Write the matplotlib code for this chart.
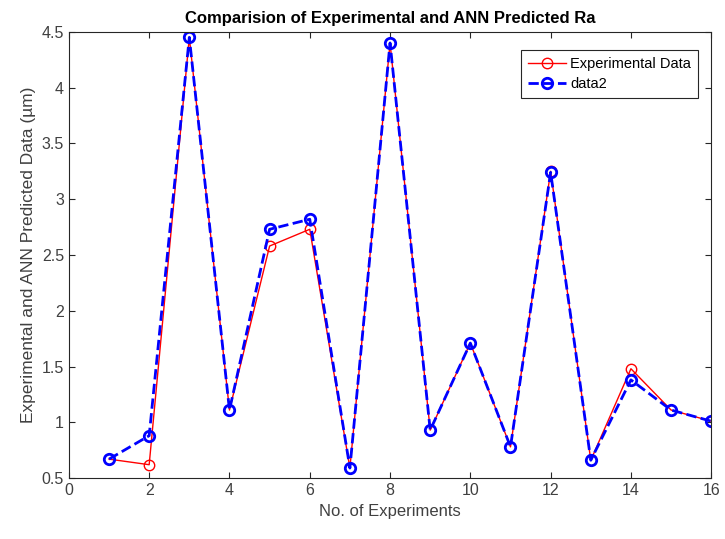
# -*- coding: utf-8 -*-
import numpy as np
import matplotlib
matplotlib.use('Agg')
import matplotlib.pyplot as plt

plt.rcParams['font.family'] = ['Liberation Sans', 'DejaVu Sans']

experiments = [1, 2, 3, 4, 5, 6, 7, 8, 9, 10, 11, 12, 13, 14, 15, 16]
experimental = [0.67, 0.62, 4.45, 1.11, 2.58, 2.73, 0.59, 4.40, 0.93, 1.71, 0.78, 3.25, 0.66, 1.48, 1.11, 1.01]
predicted = [0.67, 0.88, 4.45, 1.11, 2.73, 2.82, 0.59, 4.40, 0.93, 1.71, 0.78, 3.24, 0.66, 1.38, 1.11, 1.01]

fig = plt.figure(figsize=(7.25, 5.39), dpi=100)
ax = fig.add_axes([0.095, 0.113, 0.886, 0.828])

ax.plot(experiments, experimental, '-o', color='#ff0000', lw=1.0, ms=7.5,
        mfc='none', mew=1.0, label='Experimental Data')
ax.plot(experiments, predicted, '--o', color='#0000ff', lw=2.0, ms=7.5,
        mfc='none', mew=2.0, label='data2')

ax.set_xlim(0, 16)
ax.set_ylim(0.5, 4.5)
ax.set_xticks(np.arange(0, 17, 2))
ax.set_yticks(np.arange(0.5, 4.51, 0.5))
ax.set_yticklabels(['0.5', '1', '1.5', '2', '2.5', '3', '3.5', '4', '4.5'])
ax.tick_params(direction='in', top=True, right=True, length=4,
               labelsize=11.5, colors='#262626', labelcolor='#404040')
for s in ax.spines.values():
    s.set_color('#262626')
    s.set_linewidth(0.8)

ax.set_title('Comparision of Experimental and ANN Predicted Ra',
             fontsize=12, fontweight='bold', pad=6)
ax.set_xlabel('No. of Experiments', fontsize=12, color='#404040')
ax.set_ylabel('Experimental and ANN Predicted Data (\u00b5m)', fontsize=12.5,
              color='#404040')

leg = ax.legend(loc='upper right', bbox_to_anchor=(0.99, 0.975), fontsize=10.5,
                fancybox=False, framealpha=1, edgecolor='#262626',
                handlelength=2.6, borderpad=0.45, labelspacing=0.45,
                handletextpad=0.3)
leg.get_frame().set_linewidth(0.8)

plt.savefig('out.png', dpi=100)
